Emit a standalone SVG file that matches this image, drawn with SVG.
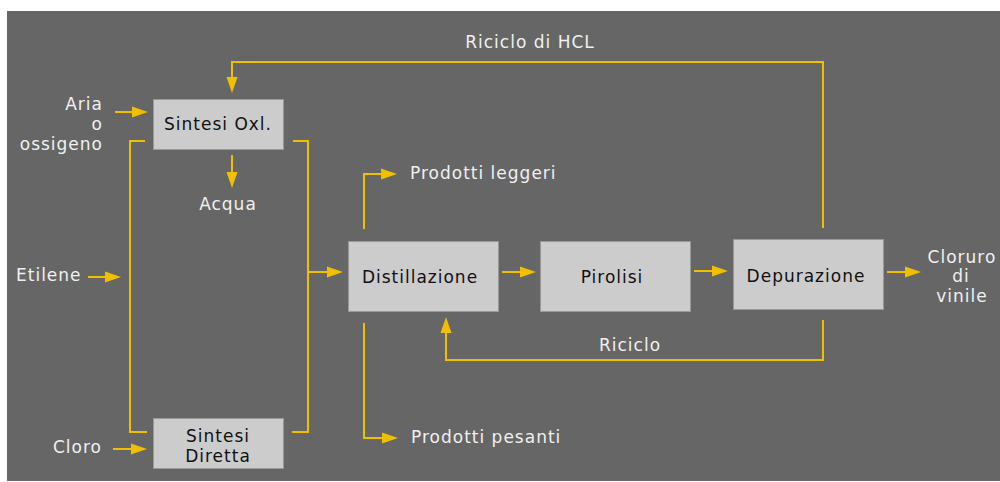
<svg xmlns="http://www.w3.org/2000/svg" width="1000" height="482" viewBox="0 0 1000 482">
<defs>
<style>
.bg{fill:#666666}
.box{fill:#cccccc;stroke:#999999;stroke-width:1}
.lbl{font-family:"DejaVu Sans",sans-serif;font-size:17px;letter-spacing:1px;fill:#f0f0f0}
.btx{font-family:"DejaVu Sans",sans-serif;font-size:17px;letter-spacing:1px;fill:#111111}
.ln{fill:none;stroke:#f0c000;stroke-width:2}
.ar{marker-end:url(#ah)}
</style>
<marker id="ah" markerUnits="userSpaceOnUse" markerWidth="16" markerHeight="12" refX="12" refY="6" orient="auto">
<path d="M0,0.5 L16,6 L0,11.5 z" fill="#f0c000"/>
</marker>
</defs>
<rect x="0" y="0" width="1000" height="482" fill="#ffffff"/>
<rect class="bg" x="7" y="11" width="993" height="470"/>

<g id="connectors">
<path class="ln ar" d="M823,228 V62 H232 V89"/>
<path class="ln ar" d="M115,112 H144"/>
<path class="ln" d="M145,141 H130 V432 H147"/>
<path class="ln" d="M293,141 H308 V432 H292"/>
<path class="ln ar" d="M88,277 H117"/>
<path class="ln ar" d="M113,449 H143"/>
<path class="ln ar" d="M232,155 V184"/>
<path class="ln ar" d="M308,272 H339"/>
<path class="ln ar" d="M364,229 V174 H393"/>
<path class="ln ar" d="M364,323 V438 H394"/>
<path class="ln ar" d="M502,272 H532"/>
<path class="ln ar" d="M694,271 H724"/>
<path class="ln ar" d="M887,272 H917"/>
<path class="ln ar" d="M823,320 V360 H446 V321"/>
</g>

<g id="sintesi-oxl">
<rect class="box" x="153.5" y="99.5" width="130" height="50"/>
<text class="btx" x="218" y="130" text-anchor="middle">Sintesi Oxl.</text>
</g>
<g id="sintesi-diretta">
<rect class="box" x="153.5" y="418.5" width="130" height="50"/>
<text class="btx" x="218" y="442" text-anchor="middle">Sintesi</text>
<text class="btx" x="218" y="462" text-anchor="middle">Diretta</text>
</g>
<g id="distillazione">
<rect class="box" x="348.5" y="241.5" width="150" height="70"/>
<text class="btx" x="420" y="283" text-anchor="middle">Distillazione</text>
</g>
<g id="pirolisi">
<rect class="box" x="540.5" y="241.5" width="150" height="70"/>
<text class="btx" x="612" y="283" text-anchor="middle">Pirolisi</text>
</g>
<g id="depurazione">
<rect class="box" x="733.5" y="239.5" width="150" height="70"/>
<text class="btx" x="806" y="282" text-anchor="middle">Depurazione</text>
</g>

<g id="labels">
<text class="lbl" x="530" y="48" text-anchor="middle">Riciclo di HCL</text>
<text class="lbl" x="103" y="110" text-anchor="end">Aria</text>
<text class="lbl" x="103" y="130" text-anchor="end">o</text>
<text class="lbl" x="103" y="150" text-anchor="end">ossigeno</text>
<text class="lbl" x="228" y="210" text-anchor="middle">Acqua</text>
<text class="lbl" x="16" y="281">Etilene</text>
<text class="lbl" x="53" y="453">Cloro</text>
<text class="lbl" x="410" y="179">Prodotti leggeri</text>
<text class="lbl" x="411" y="443">Prodotti pesanti</text>
<text class="lbl" x="630" y="351" text-anchor="middle">Riciclo</text>
<text class="lbl" x="962" y="263" text-anchor="middle">Cloruro</text>
<text class="lbl" x="961" y="282" text-anchor="middle">di</text>
<text class="lbl" x="962" y="302" text-anchor="middle">vinile</text>
</g>
</svg>
